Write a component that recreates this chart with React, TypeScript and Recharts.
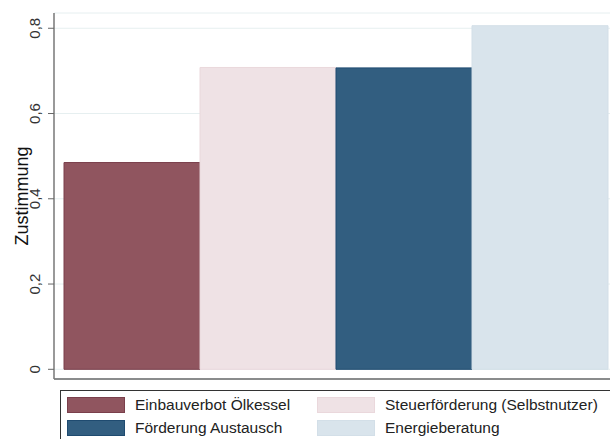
import React from 'react';
import { BarChart, Bar, XAxis, YAxis, CartesianGrid } from 'recharts';

// Zustimmung je Maßnahme (Anteil)
const seriesNames = [
  'Einbauverbot Ölkessel',
  'Steuerförderung (Selbstnutzer)',
  'Förderung Austausch',
  'Energieberatung',
];
const seriesKeys = ['verbot', 'steuer', 'austausch', 'beratung'];
const seriesValues = [0.485, 0.708, 0.707, 0.806];
const seriesFills = ['#90555f', '#efe2e5', '#325e80', '#d9e4ec'];
const seriesStrokes = ['#7a3f4b', '#ead8dc', '#1f4b70', '#d3dfe8'];
const yTicks = [0, 0.2, 0.4, 0.6, 0.8];

// Reihenfolge in der Legende (zwei Spalten)
const legendOrder = [0, 1, 2, 3];

const row: Record<string, number | string> = { name: 'alle' };
seriesKeys.forEach((k, i) => {
  row[k] = seriesValues[i];
});
const data = [row];

const fmt = (v: number) => (v === 0 ? '0' : v.toFixed(1).replace('.', ','));

const YTick = (props: any) => {
  const { y, payload } = props;
  const x = 40;
  return (
    <text
      x={x}
      y={y}
      transform={`rotate(-90, ${x}, ${y})`}
      textAnchor="middle"
      fill="#333"
      fontSize={15}
      fontFamily="'Liberation Sans', Arial, sans-serif"
    >
      {fmt(payload.value)}
    </text>
  );
};

const Legend2 = () => (
  <div
    style={{
      position: 'absolute',
      left: 60,
      top: 390,
      width: 560,
      height: 60,
      border: '1px solid #333',
      boxSizing: 'border-box',
      fontFamily: "'Liberation Sans', Arial, sans-serif",
      fontSize: 15.5,
      color: '#222',
    }}
  >
    {legendOrder.map((idx, i) => {
      const col = i % 2;
      const r = Math.floor(i / 2);
      return (
        <div
          key={idx}
          style={{
            position: 'absolute',
            left: col === 0 ? 6 : 256,
            top: r === 0 ? 6 : 29,
            display: 'flex',
            alignItems: 'center',
            height: 16,
            whiteSpace: 'nowrap',
          }}
        >
          <span
            style={{
              width: 58,
              height: 16,
              background: seriesFills[idx],
              border: `1px solid ${seriesStrokes[idx]}`,
              boxSizing: 'border-box',
              marginRight: 10,
            }}
          />
          <span>{seriesNames[idx]}</span>
        </div>
      );
    })}
  </div>
);

export default function App() {
  return (
    <div
      style={{
        position: 'absolute',
        left: 0,
        top: 0,
        width: 610,
        height: 439,
        overflow: 'hidden',
        background: '#fff',
      }}
    >
      <BarChart
        width={610}
        height={439}
        data={data}
        margin={{ top: 13, right: 0, bottom: 59, left: 0 }}
        barCategoryGap={3}
        barGap={0}
      >
        <CartesianGrid vertical={false} stroke="#e6eff0" />
        <XAxis
          dataKey="name"
          tick={false}
          tickLine={false}
          height={1}
          padding={{ left: 7, right: 0 }}
          axisLine={{ stroke: '#222', strokeWidth: 1.2 }}
        />
        <YAxis
          width={54}
          domain={[0, 0.8]}
          ticks={yTicks}
          padding={{ top: 12.7, bottom: 9.7 }}
          tick={<YTick />}
          tickSize={6}
          tickLine={{ stroke: '#666' }}
          axisLine={{ stroke: '#777', strokeWidth: 1.5 }}
          label={{
            value: 'Zustimmung',
            angle: -90,
            position: 'insideLeft',
            dx: 17,
            style: {
              textAnchor: 'middle',
              fontSize: 18,
              fill: '#111',
              fontFamily: "'Liberation Sans', Arial, sans-serif",
            },
          }}
        />
        {seriesKeys.map((k, i) => (
          <Bar
            key={k}
            dataKey={k}
            fill={seriesFills[i]}
            stroke={seriesStrokes[i]}
            strokeWidth={1}
            isAnimationActive={false}
          />
        ))}
      </BarChart>
      <Legend2 />
    </div>
  );
}
